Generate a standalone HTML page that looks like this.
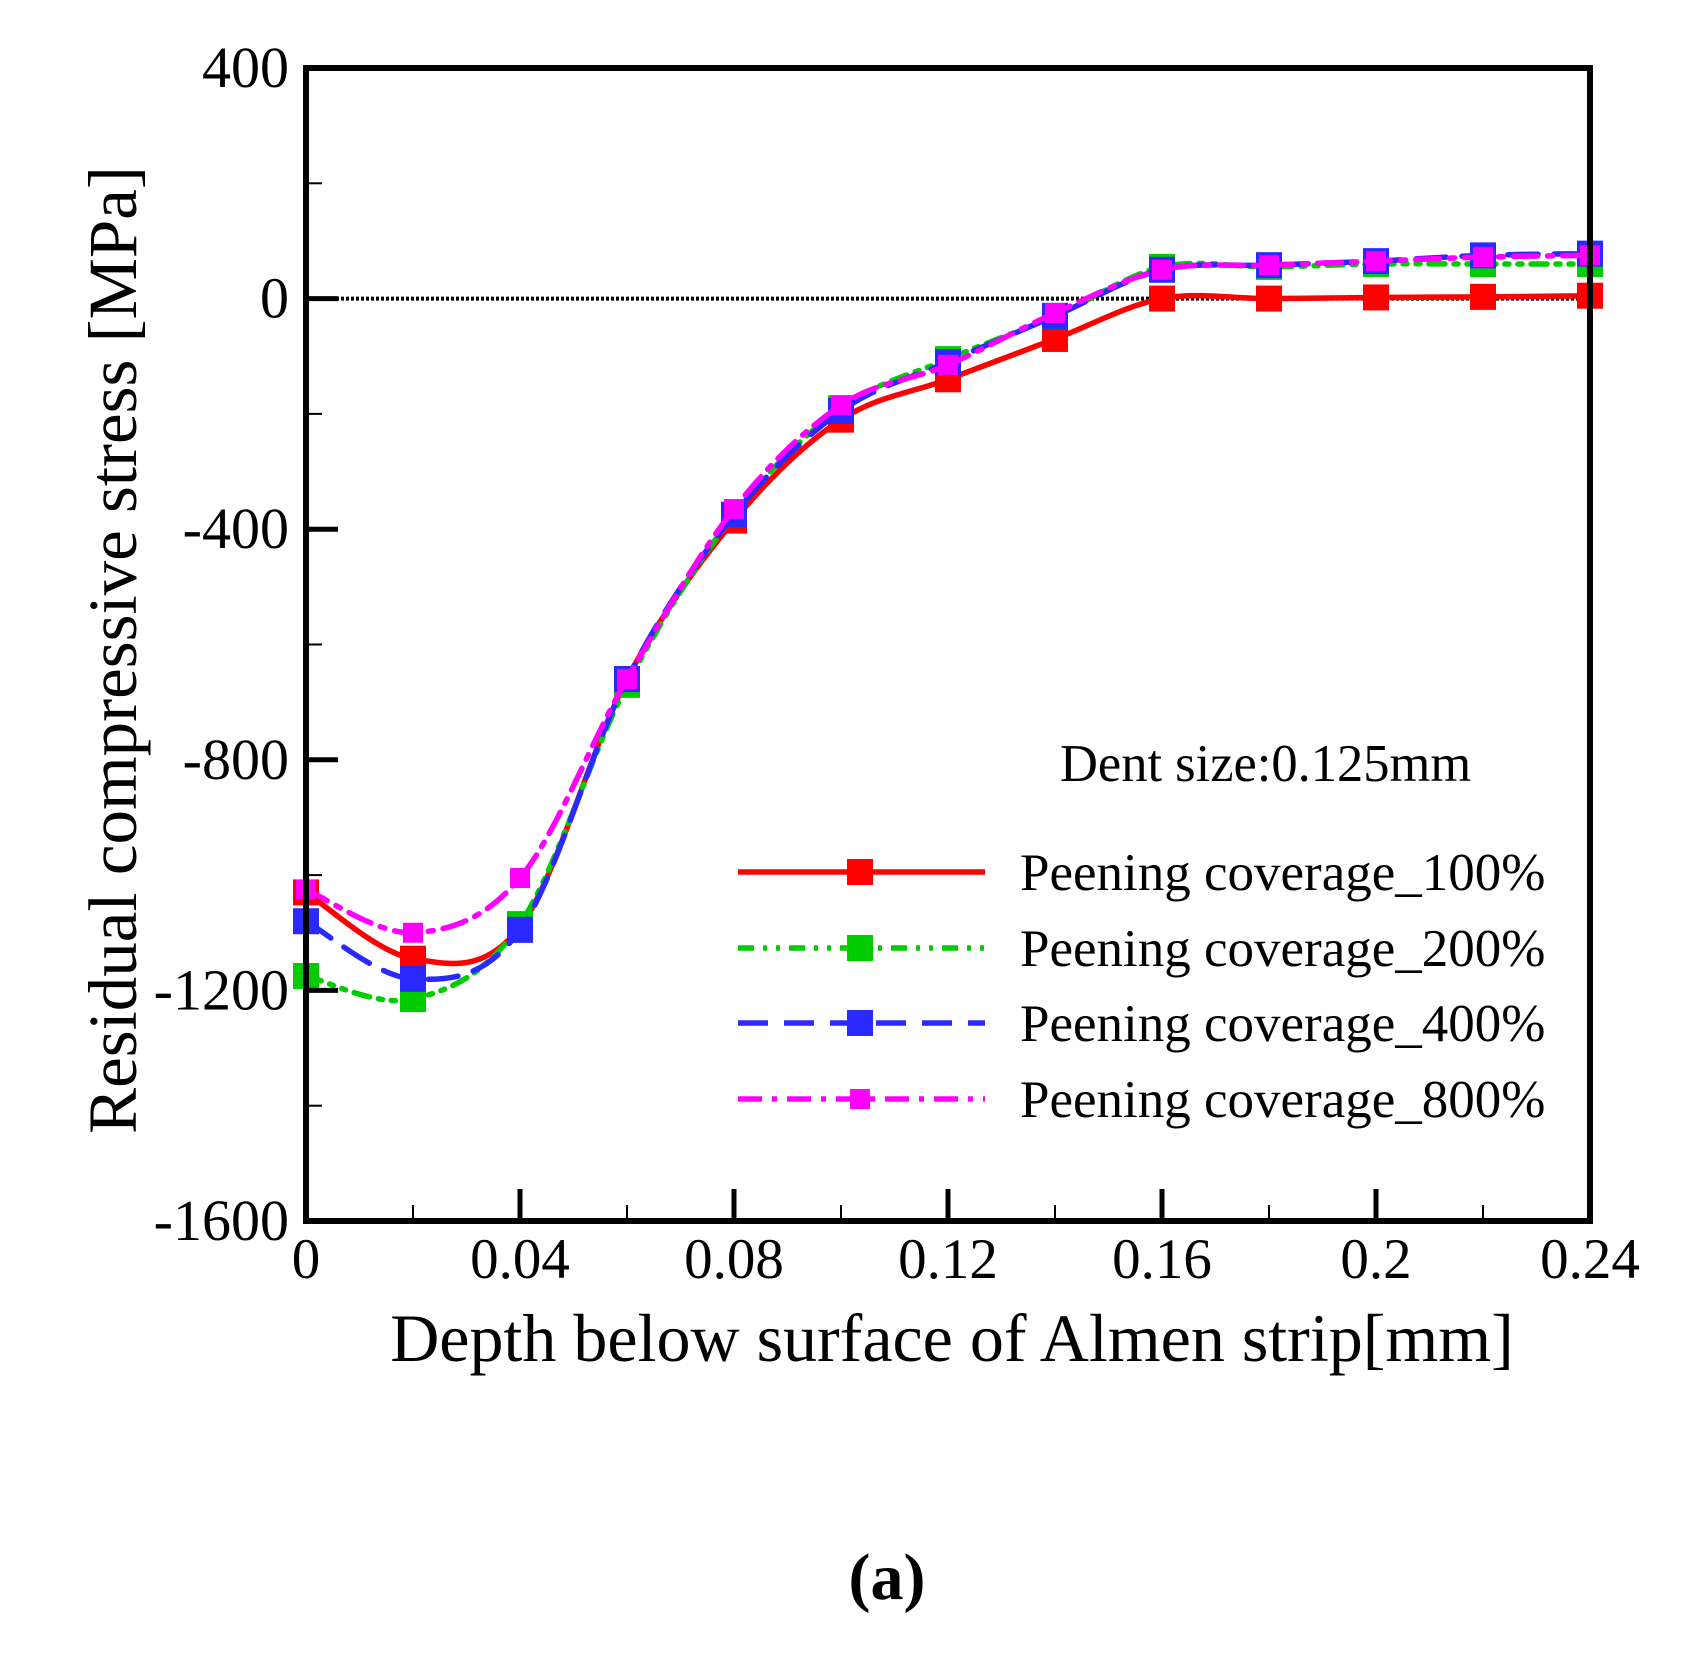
<!DOCTYPE html>
<html><head><meta charset="utf-8"><style>body{margin:0;background:#fff}svg{display:block}text{font-family:"Liberation Serif",serif;fill:#000}</style></head>
<body>
<svg id="c" width="1682" height="1656"></svg>
<script>
const depths=[0,0.02,0.04,0.06,0.08,0.10,0.12,0.14,0.16,0.18,0.20,0.22,0.24];
const cov100=[-1030,-1145,-1090,-660,-385,-210,-140,-70,0,0,2,3,5];
const cov200=[-1175,-1215,-1085,-670,-375,-190,-105,-30,55,55,60,60,60];
const cov400=[-1080,-1180,-1095,-660,-375,-195,-110,-30,50,58,65,75,78];
const cov800=[-1025,-1100,-1005,-660,-365,-185,-115,-25,50,58,65,72,75];
const xTicks=["0","0.04","0.08","0.12","0.16","0.2","0.24"];
const yTicks=["400","0","-400","-800","-1200","-1600"];
const seriesLabels=["Peening coverage_100%","Peening coverage_200%","Peening coverage_400%","Peening coverage_800%"];
const L=306,R=1590,T=68,B=1221;
const X=v=>L+(v/0.24)*(R-L), Y=v=>T+(400-v)/2000*(B-T);
const svg=document.getElementById('c'),NS="http://www.w3.org/2000/svg";
function mk(t,a,p){const e=document.createElementNS(NS,t);for(const k in a)e.setAttribute(k,a[k]);(p||svg).appendChild(e);return e;}
function spline(xs,ys){const p=xs.map((x,i)=>[X(x),Y(ys[i])]);let d=`M${p[0][0]},${p[0][1]}`;
for(let i=0;i<p.length-1;i++){const p0=p[i-1]||p[i],p1=p[i],p2=p[i+1],p3=p[i+2]||p2;
d+=` C${p1[0]+(p2[0]-p0[0])/6},${p1[1]+(p2[1]-p0[1])/6} ${p2[0]-(p3[0]-p1[0])/6},${p2[1]-(p3[1]-p1[1])/6} ${p2[0]},${p2[1]}`;}return d;}
let z=mk('line',{x1:L,x2:R,y1:Y(0),y2:Y(0),stroke:'#000','stroke-width':4,'stroke-dasharray':'3 2'});

const ser=[
{d:cov100,c:'#f00',dash:'',m:26,n:'series-100'},
{d:cov200,c:'#00cc00',dash:'16 9 4 9 4 9',m:26,n:'series-200'},
{d:cov400,c:'#2a2aff',dash:'30 16',m:26,n:'series-400'},
{d:cov800,c:'#ff00ff',dash:'24 10 5 10',m:20,n:'series-800'}];
ser.forEach(s=>{const g=mk('g',{});
mk('path',{d:spline(depths,s.d),fill:'none',stroke:s.c,'stroke-width':5.5,'stroke-dasharray':s.dash,'stroke-linecap':'round'},g);
depths.forEach((x,i)=>{const r=mk('rect',{x:X(x)-s.m/2,y:Y(s.d[i])-s.m/2,width:s.m,height:s.m,fill:s.c},g);
});});
let f=mk('rect',{x:L,y:T,width:R-L,height:B-T,fill:'none',stroke:'#000','stroke-width':6});

for(let v=400;v>=-1600;v-=200){const maj=v%400===0;const l=mk('line',{x1:L,x2:L+(maj?32:16),y1:Y(v),y2:Y(v),stroke:'#000','stroke-width':maj?5:2});
}
for(let i=0;i<=12;i++){const v=i*0.02,maj=i%2===0;const l=mk('line',{x1:X(v),x2:X(v),y1:B,y2:B-(maj?32:16),stroke:'#000','stroke-width':maj?5:2});
}
yTicks.forEach((t,i)=>{const e=mk('text',{x:289,y:Y(400-i*400)+19,'text-anchor':'end','font-size':58});e.textContent=t;
});
xTicks.forEach((t,i)=>{const e=mk('text',{x:X(i*0.04),y:1278,'text-anchor':'middle','font-size':57});e.textContent=t;
});
let xt=mk('text',{x:952,y:1361,'text-anchor':'middle','font-size':68});xt.textContent='Depth below surface of Almen strip[mm]';

let yt=mk('text',{x:0,y:0,'text-anchor':'middle','font-size':69,transform:'translate(136,650) rotate(-90)'});yt.textContent='Residual compressive stress [MPa]';

let dn=mk('text',{x:1060,y:781,'font-size':52.5});dn.textContent='Dent size:0.125mm';

const ly=[872,948,1023,1099];
ser.forEach((s,i)=>{const g=mk('g',{});
mk('line',{x1:738,x2:985,y1:ly[i],y2:ly[i],stroke:s.c,'stroke-width':5.5,'stroke-dasharray':s.dash},g);
mk('rect',{x:860-s.m/2,y:ly[i]-s.m/2,width:s.m,height:s.m,fill:s.c},g);
const t=mk('text',{x:1020,y:ly[i]+18,'font-size':53},g);t.textContent=seriesLabels[i];});
let a=mk('text',{x:887,y:1599,'text-anchor':'middle','font-size':66,'font-weight':'bold'});a.textContent='(a)';

</script>
</body></html>
